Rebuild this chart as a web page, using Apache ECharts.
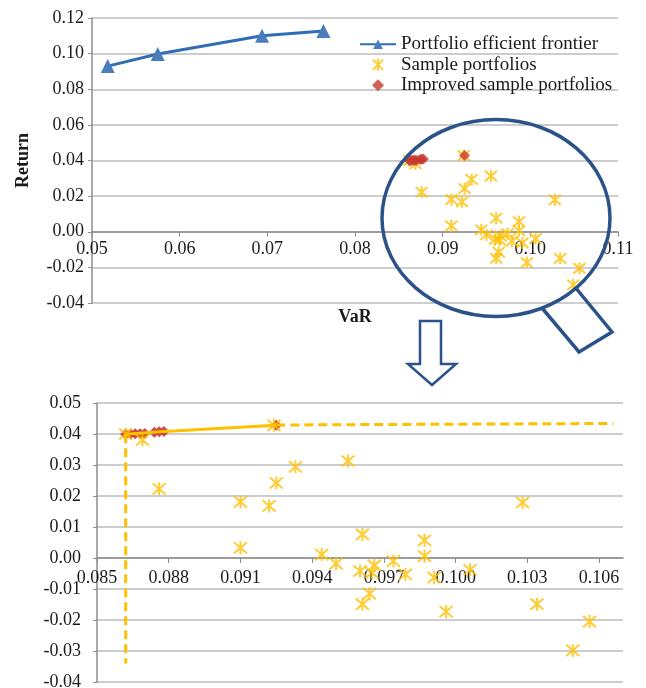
<!DOCTYPE html>
<html>
<head>
<meta charset="utf-8">
<script src="https://cdn.jsdelivr.net/npm/echarts@6/dist/echarts.min.js"></script>
<style>
  * { margin: 0; padding: 0; }
  body { background: #fff; }
  #main { width: 646px; height: 688px; }
</style>
</head>
<body>
<div id="main"></div>
<script>
  // efficient frontier
  var frontierVaR = [0.0518, 0.0575, 0.0694, 0.0764];
  var frontierReturn = [0.0930, 0.0998, 0.1100, 0.1127];

  // sample portfolios
  var sampleVaR = [0.0862, 0.0869, 0.0876, 0.0910, 0.0910, 0.0922, 0.0925, 0.0924, 0.0933, 0.0944,
    0.0955, 0.1028, 0.0961, 0.0950, 0.0960, 0.0966, 0.0965, 0.0974, 0.0979, 0.0987,
    0.0987, 0.0991, 0.1006, 0.0964, 0.0961, 0.0996, 0.1034, 0.1056, 0.1049];
  var sampleReturn = [0.0400, 0.0381, 0.0223, 0.0181, 0.0033, 0.0168, 0.0242, 0.0428, 0.0294, 0.0011,
    0.0313, 0.0179, 0.0076, -0.0018, -0.0042, -0.0024, -0.0047, -0.0010, -0.0053, 0.0057,
    0.0006, -0.0063, -0.0038, -0.0115, -0.0149, -0.0173, -0.0149, -0.0205, -0.0298];

  // improved sample portfolios
  var improvedVaR = [0.0862, 0.0864, 0.0866, 0.0868, 0.0870, 0.0874, 0.0876, 0.0878, 0.0925];
  var improvedReturn = [0.0399, 0.0400, 0.0401, 0.0401, 0.0402, 0.0406, 0.0407, 0.0408, 0.0428];

  // improved frontier (zoomed chart) and its dashed extensions
  var improvedLineVaR = [0.0862, 0.0878, 0.0925];
  var improvedLineReturn = [0.0399, 0.0408, 0.0428];
  var dashDownVaR = [0.0862, 0.0862];
  var dashDownReturn = [0.0399, -0.0340];
  var dashRightVaR = [0.0925, 0.1066];
  var dashRightReturn = [0.0429, 0.0434];

  // tick labels of the zoomed x axis
  var zoomTicks = [0.085, 0.088, 0.091, 0.094, 0.097, 0.100, 0.103, 0.106];

  function pairs(xs, ys) {
    return xs.map(function (x, i) { return [x, ys[i]]; });
  }

  var font = 'Liberation Serif';
  var starPath = 'path://M0,0L12,12M12,0L0,12M6,-1L6,13';
  var diamondPath = 'path://M6,0L12,6L6,12L0,6Z';
  var yellow = '#FFC000';
  var red = '#C8392F';
  var blue = '#2F6DB5';
  var gridColor = '#BDBDBD';
  var axisColor = '#8C8C8C';

  var labelStyle = { fontFamily: font, fontSize: 18, color: '#1A1A1A' };

  // grid boxes; the x axes sit on the zero line, so they are shifted up from the grid bottom
  var topGrid = { left: 92, top: 18, width: 526, height: 285 };
  var zoomGrid = { left: 97, top: 403, width: 526, height: 279 };
  var topZeroOffset = -topGrid.height * (0.04 / 0.16);
  var zoomZeroOffset = -zoomGrid.height * (0.04 / 0.09);

  var chart = echarts.init(document.getElementById('main'));
  chart.setOption({
    animation: false,
    backgroundColor: '#fff',
    textStyle: { fontFamily: font },
    legend: {
      data: [
        { name: 'Portfolio efficient frontier' },
        { name: 'Sample portfolios' },
        { name: 'Improved sample portfolios', icon: diamondPath }
      ],
      orient: 'vertical',
      left: 359,
      top: 34,
      itemWidth: 36,
      itemHeight: 12,
      itemGap: 0,
      padding: 0,
      symbolKeepAspect: true,
      textStyle: { fontFamily: font, fontSize: 19, color: '#1A1A1A', lineHeight: 20.5 }
    },
    grid: [
      Object.assign({ outerBoundsMode: 'none' }, topGrid),
      Object.assign({ outerBoundsMode: 'none' }, zoomGrid)
    ],
    xAxis: [{
      gridIndex: 0,
      type: 'value',
      min: 0.05,
      max: 0.11,
      interval: 0.01,
      offset: topZeroOffset,
      name: 'VaR',
      nameLocation: 'middle',
      nameGap: 77,
      nameTextStyle: { fontFamily: font, fontSize: 18, fontWeight: 'bold', color: '#1A1A1A' },
      axisLine: { onZero: false, lineStyle: { color: axisColor, width: 1.5 } },
      axisTick: { show: true, length: 5, lineStyle: { color: axisColor } },
      axisLabel: Object.assign({ margin: 9, formatter: function (v) { return v.toFixed(2); } }, labelStyle),
      splitLine: { show: false }
    }, {
      gridIndex: 1,
      type: 'value',
      min: 0.085,
      max: 0.107,
      offset: zoomZeroOffset,
      axisLine: { onZero: false, lineStyle: { color: axisColor, width: 1.5 } },
      axisTick: { show: true, length: 5, customValues: zoomTicks, lineStyle: { color: axisColor } },
      axisLabel: Object.assign({ margin: 11, customValues: zoomTicks, formatter: function (v) { return v.toFixed(3); } }, labelStyle),
      splitLine: { show: false }
    }],
    yAxis: [{
      gridIndex: 0,
      type: 'value',
      min: -0.04,
      max: 0.12,
      interval: 0.02,
      name: 'Return',
      nameLocation: 'middle',
      nameGap: 60,
      nameTextStyle: { fontFamily: font, fontSize: 18, fontWeight: 'bold', color: '#1A1A1A' },
      axisLine: { show: true, lineStyle: { color: axisColor, width: 1.5 } },
      axisTick: { show: true, length: 4, lineStyle: { color: axisColor } },
      axisLabel: Object.assign({ margin: 8, formatter: function (v) { return v.toFixed(2); } }, labelStyle),
      splitLine: { lineStyle: { color: gridColor, width: 1.5 } }
    }, {
      gridIndex: 1,
      type: 'value',
      min: -0.04,
      max: 0.05,
      interval: 0.01,
      axisLine: { show: true, lineStyle: { color: axisColor, width: 1.5 } },
      axisTick: { show: true, length: 4, lineStyle: { color: axisColor } },
      axisLabel: Object.assign({ margin: 16, formatter: function (v) { return v.toFixed(2); } }, labelStyle),
      splitLine: { lineStyle: { color: gridColor, width: 1.5 } }
    }],
    series: [{
      name: 'Portfolio efficient frontier',
      type: 'line',
      xAxisIndex: 0, yAxisIndex: 0,
      data: pairs(frontierVaR, frontierReturn),
      symbol: 'triangle',
      symbolSize: 14,
      showAllSymbol: true,
      lineStyle: { color: blue, width: 3 },
      itemStyle: { color: '#4A7EBB' }
    }, {
      name: 'Improved sample portfolios',
      type: 'scatter',
      xAxisIndex: 0, yAxisIndex: 0,
      data: pairs(improvedVaR, improvedReturn),
      symbol: 'diamond',
      symbolSize: 11,
      itemStyle: { color: red },
      z: 3
    }, {
      name: 'Sample portfolios',
      type: 'scatter',
      xAxisIndex: 0, yAxisIndex: 0,
      data: pairs(sampleVaR, sampleReturn),
      symbol: starPath,
      symbolSize: 12,
      itemStyle: { color: 'transparent', borderColor: yellow, borderWidth: 2 },
      z: 2
    }, {
      name: 'improved-zoom',
      type: 'scatter',
      xAxisIndex: 1, yAxisIndex: 1,
      data: pairs(improvedVaR, improvedReturn),
      symbol: 'diamond',
      symbolSize: 11,
      itemStyle: { color: red, opacity: 0.9 },
      z: 2
    }, {
      name: 'sample-zoom',
      type: 'scatter',
      xAxisIndex: 1, yAxisIndex: 1,
      data: pairs(sampleVaR, sampleReturn),
      symbol: starPath,
      symbolSize: 13,
      itemStyle: { color: 'transparent', borderColor: yellow, borderWidth: 2 },
      z: 3
    }, {
      name: 'improved-line',
      type: 'line',
      xAxisIndex: 1, yAxisIndex: 1,
      data: pairs(improvedLineVaR, improvedLineReturn),
      showSymbol: false,
      lineStyle: { color: yellow, width: 3 },
      z: 4
    }, {
      name: 'dash-down',
      type: 'line',
      xAxisIndex: 1, yAxisIndex: 1,
      data: pairs(dashDownVaR, dashDownReturn),
      showSymbol: false,
      lineStyle: { color: yellow, width: 3, type: [9, 5] },
      z: 4
    }, {
      name: 'dash-right',
      type: 'line',
      xAxisIndex: 1, yAxisIndex: 1,
      data: pairs(dashRightVaR, dashRightReturn),
      showSymbol: false,
      lineStyle: { color: yellow, width: 3, type: [9, 5] },
      z: 4
    }],
    graphic: [{
      // magnifying glass
      type: 'ellipse',
      shape: { cx: 496, cy: 218, rx: 114, ry: 98.5 },
      style: { fill: 'none', stroke: '#2B5389', lineWidth: 3.5 },
      z: 100
    }, {
      type: 'polyline',
      shape: { points: [[542, 308], [579, 352], [612, 332], [575, 287]] },
      style: { fill: 'none', stroke: '#2B5389', lineWidth: 3.5 },
      z: 100
    }, {
      // arrow down
      type: 'polygon',
      shape: { points: [[420, 321], [441, 321], [441, 364], [456, 364], [432, 385], [408, 364], [420, 364]] },
      style: { fill: '#fff', stroke: '#2B5389', lineWidth: 2.5 },
      z: 100
    }]
  });
</script>
</body>
</html>
